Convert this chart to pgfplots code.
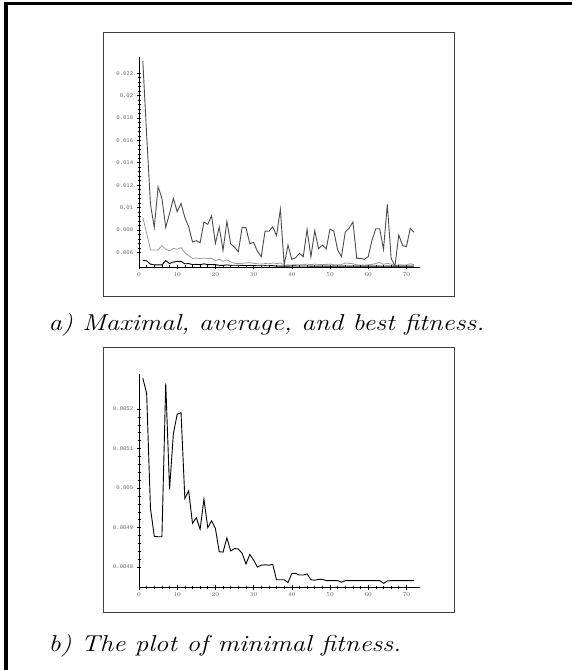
\documentclass[border=0pt]{standalone}
\usepackage{fontspec}
\usepackage{graphicx}
\usepackage{pgfplots}
\pgfplotsset{compat=1.18}
\newfontfamily\tickfont{Liberation Mono}

\pgfplotsset{
  maple/.style={
    scale only axis, width=280.8pt,
    axis lines=left, axis line style={-, line width=0.8pt, black},
    xmin=0, xmax=73.5, enlargelimits=false,
    xtick={0,10,...,70}, minor x tick num=4, minor y tick num=4,
    tick align=center, major tick length=4.5pt, minor tick length=3pt,
    every tick/.style={black, line width=0.6pt},
    ticklabel style={font=\tickfont\fontsize{5.6}{6}\selectfont, text=black!60},
    scaled y ticks=false,
    clip=false,
  },
}

\begin{document}
\begin{tikzpicture}[x=1pt,y=1pt]
\path[use as bounding box] (0,0) rectangle (572,670);
% outer frame (cut off at right and bottom)
\draw[line width=3.5pt] (6,0) -- (6,666.4) -- (572,666.4);
% frames round the plots
\draw[line width=0.8pt, black!75] (103,374) rectangle (454,638);
\draw[line width=0.8pt, black!75] (103,57.3) rectangle (454,322.3);

% a) maximal, average and best fitness
\begin{axis}[maple, at={(139pt,403pt)}, anchor=south west, height=210.3pt,
    ymin=0.00469, ymax=0.02348,
    ytick={0.006,0.008,...,0.0221},
    yticklabels={0.006,0.008,0.01,0.012,0.014,0.016,0.018,0.02,0.022}]
\addplot[black!70, line width=0.9pt] coordinates {
(1,0.0231)(2,0.0165)(3,0.0103)(4,0.00823)(5,0.01186)(6,0.01082)(7,0.00823)(8,0.00948)
(9,0.01082)(10,0.00963)(11,0.01037)(12,0.00912)(13,0.00829)(14,0.00692)(15,0.00704)
(16,0.00686)(17,0.00871)(18,0.0085)(19,0.00927)(20,0.0068)(21,0.00826)(22,0.00618)
(23,0.00877)(24,0.00677)(25,0.00645)(26,0.00606)(27,0.00823)(28,0.0082)(29,0.00677)
(30,0.00689)(31,0.00609)(32,0.00561)(33,0.0079)(34,0.00788)(35,0.00829)(36,0.00749)
(37,0.00984)(38,0.00487)(39,0.00665)(40,0.00538)(41,0.00552)(42,0.00591)(43,0.00561)
(44,0.00805)(45,0.00561)(46,0.00793)(47,0.00633)(48,0.00665)(49,0.0063)(50,0.00808)
(51,0.00788)(52,0.00621)(53,0.00561)(54,0.00782)(55,0.00817)(56,0.00871)(57,0.00546)
(58,0.00546)(59,0.00538)(60,0.00561)(61,0.0071)(62,0.00811)(63,0.00811)(64,0.00627)
(65,0.01029)(66,0.00546)(67,0.00478)(68,0.00755)(69,0.0066)(70,0.00651)(71,0.00814)
(72,0.00779)};
\addplot[black!40, line width=0.8pt] coordinates {
(1,0.00913)(2,0.0077)(3,0.00621)(4,0.00621)(5,0.00621)(6,0.0066)(7,0.00627)(8,0.00612)
(9,0.00636)(10,0.00627)(11,0.00642)(12,0.00597)(13,0.0057)(14,0.00546)(15,0.00549)
(16,0.00543)(17,0.00549)(18,0.00546)(19,0.00546)(20,0.00526)(21,0.00538)(22,0.0052)
(23,0.00532)(24,0.00514)(25,0.00502)(26,0.005)(27,0.00502)(28,0.00505)(29,0.00508)
(30,0.00502)(31,0.00498)(32,0.00495)(33,0.005)(34,0.00498)(35,0.00505)(36,0.005)
(37,0.00505)(38,0.00487)(39,0.00488)(40,0.00487)(41,0.0049)(42,0.00488)(43,0.0049)
(44,0.00495)(45,0.0049)(46,0.00495)(47,0.00492)(48,0.0049)(49,0.00492)(50,0.00495)
(51,0.0049)(52,0.00488)(53,0.0049)(54,0.00505)(55,0.00502)(56,0.00498)(57,0.00488)
(58,0.00487)(59,0.00487)(60,0.00488)(61,0.00492)(62,0.005)(63,0.0051)(64,0.00492)
(65,0.00502)(66,0.00495)(67,0.00482)(68,0.0049)(69,0.00487)(70,0.00487)(71,0.00498)
(72,0.0049)};
\addplot[black, line width=0.9pt] coordinates {
(1,0.005278)(2,0.00524)(3,0.004949)(4,0.004878)(5,0.004877)(6,0.004877)(7,0.005265)
(8,0.004997)(9,0.005138)(10,0.005187)(11,0.005191)(12,0.004974)(13,0.004993)(14,0.004911)
(15,0.004925)(16,0.004896)(17,0.004972)(18,0.0049)(19,0.004917)(20,0.004898)(21,0.004839)
(22,0.004838)(23,0.004874)(24,0.004841)(25,0.004847)(26,0.004846)(27,0.004835)(28,0.004808)
(29,0.004832)(30,0.004818)(31,0.0048)(32,0.004805)(33,0.004806)(34,0.004805)(35,0.004807)
(36,0.004768)(37,0.004768)(38,0.004768)(39,0.004761)(40,0.004784)(41,0.004784)(42,0.00478)
(43,0.00478)(44,0.004783)(45,0.004768)(46,0.004767)(47,0.004769)(48,0.004769)(49,0.004766)
(50,0.004766)(51,0.004766)(52,0.004766)(53,0.004762)(54,0.004766)(55,0.004766)(56,0.004766)
(57,0.004766)(58,0.004766)(59,0.004766)(60,0.004766)(61,0.004766)(62,0.004766)(63,0.004766)
(64,0.004759)(65,0.004765)(66,0.004766)(67,0.004766)(68,0.004766)(69,0.004766)(70,0.004766)
(71,0.004766)(72,0.004766)};
\end{axis}

% b) minimal fitness
\begin{axis}[maple, at={(139pt,82.7pt)}, anchor=south west, height=213pt,
    ymin=0.004749, ymax=0.005288,
    ytick={0.0048,0.0049,0.005,0.0051,0.0052},
    yticklabels={0.0048,0.0049,0.005,0.0051,0.0052}]
\addplot[black, line width=0.9pt] coordinates {
(1,0.005278)(2,0.00524)(3,0.004949)(4,0.004878)(5,0.004877)(6,0.004877)(7,0.005265)
(8,0.004997)(9,0.005138)(10,0.005187)(11,0.005191)(12,0.004974)(13,0.004993)(14,0.004911)
(15,0.004925)(16,0.004896)(17,0.004972)(18,0.0049)(19,0.004917)(20,0.004898)(21,0.004839)
(22,0.004838)(23,0.004874)(24,0.004841)(25,0.004847)(26,0.004846)(27,0.004835)(28,0.004808)
(29,0.004832)(30,0.004818)(31,0.0048)(32,0.004805)(33,0.004806)(34,0.004805)(35,0.004807)
(36,0.004768)(37,0.004768)(38,0.004768)(39,0.004761)(40,0.004784)(41,0.004784)(42,0.00478)
(43,0.00478)(44,0.004783)(45,0.004768)(46,0.004767)(47,0.004769)(48,0.004769)(49,0.004766)
(50,0.004766)(51,0.004766)(52,0.004766)(53,0.004762)(54,0.004766)(55,0.004766)(56,0.004766)
(57,0.004766)(58,0.004766)(59,0.004766)(60,0.004766)(61,0.004766)(62,0.004766)(63,0.004766)
(64,0.004759)(65,0.004765)(66,0.004766)(67,0.004766)(68,0.004766)(69,0.004766)(70,0.004766)
(71,0.004766)(72,0.004766)};
\end{axis}

% captions
\node[anchor=base west, inner sep=0pt, font=\fontsize{23}{27}\selectfont\itshape] at (48.5,339) {\scalebox{1.17}[1]{a)\ Maximal, average, and best fitness.}};
\node[anchor=base west, inner sep=0pt, font=\fontsize{23}{27}\selectfont\itshape] at (48.5,19) {\scalebox{1.17}[1]{b)\ The plot of minimal fitness.}};
\end{tikzpicture}
\end{document}
